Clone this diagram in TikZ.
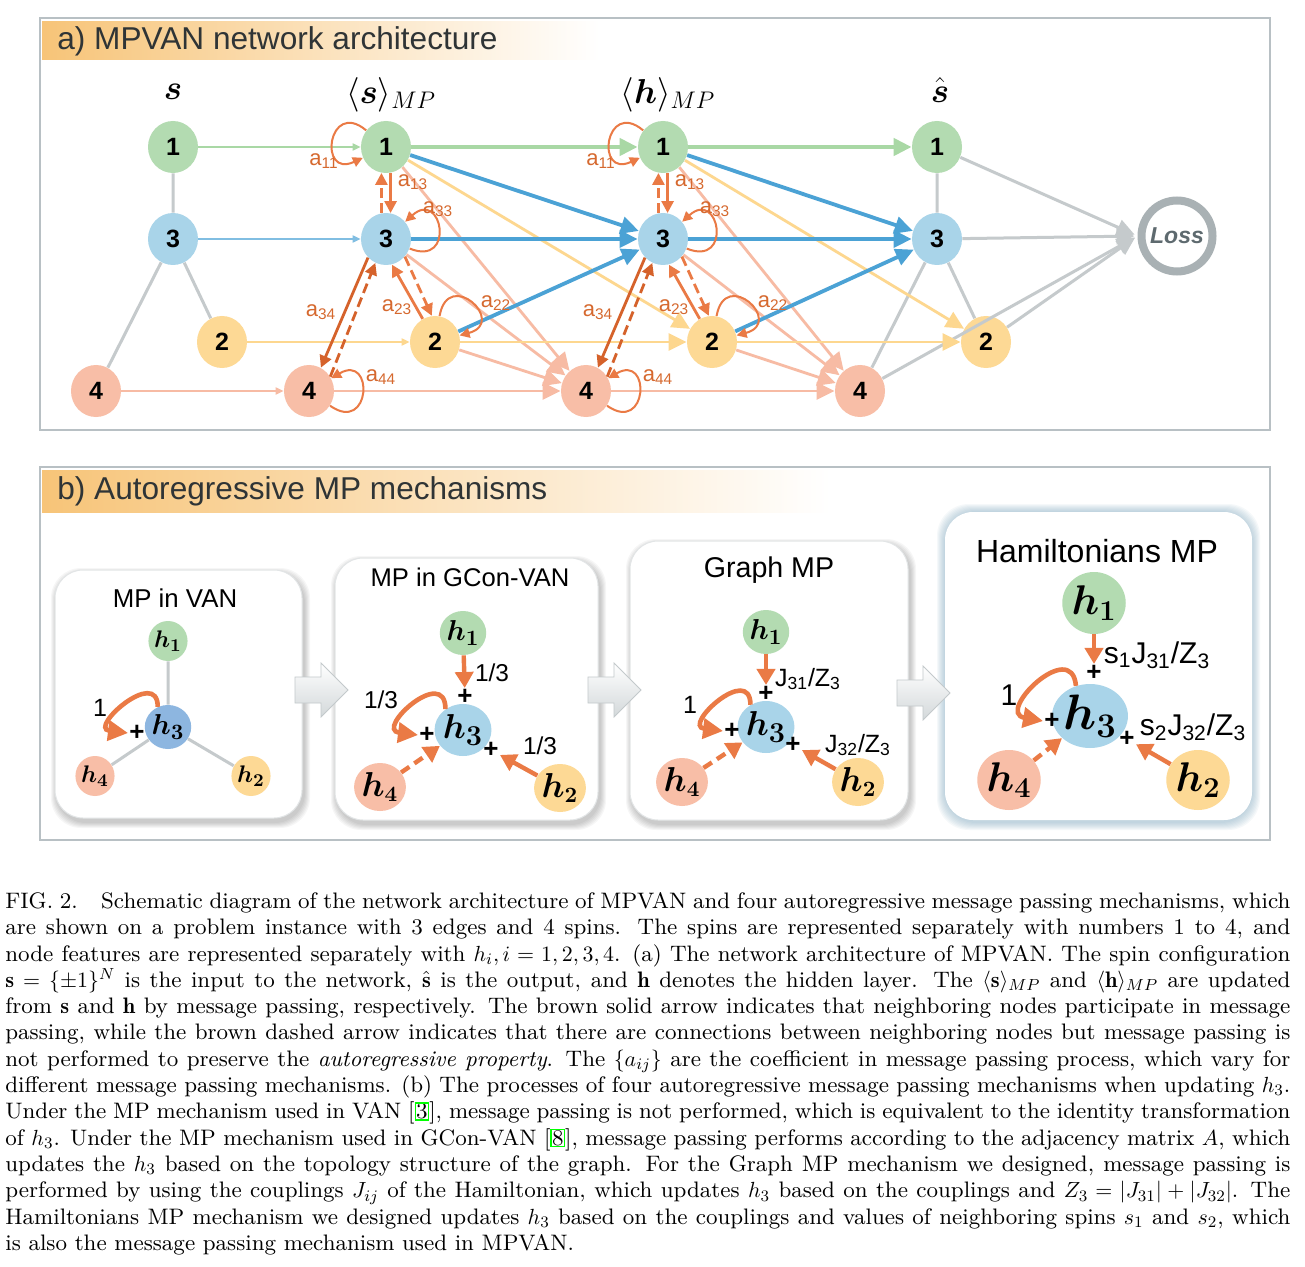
\documentclass[tikz,border=0pt]{standalone}
\usepackage{amsmath}
\usepackage{fontspec}
\setsansfont{Liberation Sans}
\newfontfamily\capfont{lmroman9-regular.otf}[ItalicFont=lmroman9-italic.otf,BoldFont=lmroman9-bold.otf]
\usetikzlibrary{arrows.meta,shapes.geometric}

\definecolor{spgreen}{HTML}{B3DBB1}
\definecolor{spblue}{HTML}{A9D4E9}
\definecolor{spyellow}{HTML}{FDD995}
\definecolor{spsalmon}{HTML}{F8BEA7}
\definecolor{vanblue}{HTML}{8DB6E0}
\definecolor{flowgreen}{HTML}{A9D8A5}
\definecolor{flowblue}{HTML}{4BA2D5}
\definecolor{flowyellow}{HTML}{FDD78F}
\definecolor{flowsalmon}{HTML}{F7BBA4}
\definecolor{mporange}{HTML}{EA7A45}
\definecolor{mpdark}{HTML}{D5622B}
\definecolor{labbrown}{HTML}{D6692F}
\definecolor{edgegray}{HTML}{C5CACC}
\definecolor{framegray}{HTML}{B8C0C4}
\definecolor{bandorange}{HTML}{F7C478}
\definecolor{titlegray}{HTML}{2F3436}
\definecolor{lossring}{HTML}{A9B1B4}
\definecolor{losstext}{HTML}{5E6A6F}
\definecolor{boxedge}{HTML}{E2E5E6}
\definecolor{glowblue}{HTML}{7FA8BF}
\definecolor{arrowgray}{HTML}{D3D8DA}
\definecolor{arrowedge}{HTML}{C3C9CB}
\definecolor{linkgreen}{HTML}{00FF00}

\newcommand{\refbox}[1]{{\setlength{\fboxsep}{0pt}\setlength{\fboxrule}{0.8pt}\fcolorbox{linkgreen}{white}{#1}}}

\tikzset{
  spin/.style={ellipse, inner sep=0pt, minimum width=25pt, minimum height=26pt,
    font=\sffamily\bfseries\fontsize{12.5}{12.5}\selectfont},
  spingreen/.style={spin, fill=spgreen},
  spinblue/.style={spin, fill=spblue},
  spinyellow/.style={spin, fill=spyellow},
  spinsalmon/.style={spin, fill=spsalmon},
  header/.style={inner sep=0pt, font=\fontsize{18}{22}\selectfont},
  paneltitle/.style={anchor=west, inner sep=0pt, text=titlegray, font=\sffamily\fontsize{15.8}{16}\selectfont},
  feed/.style={line width=0.7pt, -{Triangle[length=4pt,width=3.6pt]}},
  flow/.style={line width=1.9pt, -{Triangle[length=9pt,width=8.5pt]}},
  grayline/.style={draw=edgegray, line width=1.5pt},
  tolossarrow/.style={draw=edgegray, line width=1.5pt, shorten >=1.5pt, -{Triangle[length=9pt,width=8pt]}},
  mpsolid/.style={draw=mporange, line width=1.4pt, -{Triangle[length=6pt,width=6pt]}},
  mpdashed/.style={mpsolid, dash pattern=on 5pt off 2.5pt},
  mploop/.style={draw=mporange, line width=1pt, min distance=25pt, -{Triangle[length=5pt,width=5pt]}},
  alab/.style={inner sep=0pt, text=labbrown, font=\sffamily\fontsize{11}{11}\selectfont},
  % panel b
  hnode/.style={ellipse, inner sep=0pt},
  boxtitle/.style={inner sep=0pt, font=\sffamily\fontsize{#1}{#1}\selectfont},
  plus/.style={inner sep=0.5pt, font=\sffamily\bfseries\fontsize{13}{13}\selectfont},
  coef/.style={inner sep=0pt, font=\sffamily\fontsize{#1}{#1}\selectfont},
  bsolid/.style={draw=mporange, line width=2.2pt, -{Triangle[length=8pt,width=9pt]}},
  bdashed/.style={bsolid, dash pattern=on 5pt off 3pt},
  bloop/.style={draw=mporange, line width=2.3pt, -{Triangle[length=10pt,width=10pt]}},
}

\begin{document}
\begin{tikzpicture}[x=0.5pt, y=-0.5pt]
\useasboundingbox (0,0) rectangle (1305,1267);
\fill[white] (0,0) rectangle (1305,1267);

% frames and title bands
\shade[left color=bandorange, right color=white] (42,22) rectangle (600,60);
\shade[left color=bandorange, right color=white] (42,470) rectangle (830,512);
\draw[framegray, line width=1pt] (40,18) rectangle (1270,430);
\draw[framegray, line width=1pt] (40,467) rectangle (1270,840);
\node[paneltitle] (titlea) at (57,41) {a) MPVAN network architecture};
\node[paneltitle] (titleb) at (57,491) {b) Autoregressive MP mechanisms};

% ---------------- a) network ----------------
\node[header] (hds) at (173,92) {$\boldsymbol{s}$};
\node[header] (hdsmp) at (391,95) {$\langle\boldsymbol{s}\rangle_{MP}$};
\node[header] (hdhmp) at (668,95) {$\langle\boldsymbol{h}\rangle_{MP}$};
\node[header] (hdshat) at (940,90) {$\hat{\boldsymbol{s}}$};

\foreach \c/\x in {s/173, m/386, h/663, o/937} {
  \node[spingreen] (\c1) at (\x,147) {1};
  \node[spinblue] (\c3) at (\x,239) {3};
  \node[spinyellow] (\c2) at (\x+49,342) {2};
  \node[spinsalmon] (\c4) at (\x-77,391) {4};
}
\node[circle, draw=lossring, line width=4pt, minimum size=35.5pt, inner sep=0pt,
  text=losstext, font=\sffamily\bfseries\itshape\fontsize{11.5}{11.5}\selectfont] (loss) at (1177,236) {Loss};

% graph edges of input and output
\draw[grayline] (s1) -- (s3) (s3) -- (s2) (s3) -- (s4);
\draw[grayline] (o1) -- (o3) (o3) -- (o2) (o3) -- (o4);
\foreach \i in {1,3,2,4}
  \draw[tolossarrow] (o\i) -- (loss.west);

% s -> <s>_MP
\draw[feed, flowgreen] (s1) -- (m1);
\draw[feed, flowblue!70] (s3) -- (m3);
\draw[feed, flowyellow] (s2) -- (m2);
\draw[feed, flowsalmon] (s4) -- (m4);

% autoregressive feeds
\foreach \a/\b in {m/h, h/o} {
  \draw[flow, flowsalmon, line width=1.4pt] (\a1) -- (\b4);
  \draw[flow, flowsalmon, line width=1.4pt] (\a3) -- (\b4);
  \draw[flow, flowsalmon, line width=1.4pt] (\a2) -- (\b4);
  \draw[flow, flowsalmon, line width=1.4pt] (\a4) -- (\b4);
  \draw[flow, flowyellow, line width=1.4pt] (\a1) -- (\b2);
  \draw[flow, flowyellow, line width=1.4pt] (\a2) -- (\b2);
  \draw[flow, flowblue] (\a1) -- (\b3);
  \draw[flow, flowblue] (\a3) -- (\b3);
  \draw[flow, flowblue] (\a2) -- (\b3);
  \draw[flow, flowgreen, line width=2.2pt] (\a1) -- (\b1);
}

% message passing inside <s>_MP and <h>_MP
\foreach \c/\x in {m/386, h/663} {
  \draw[mploop] (\c1) to[out=140,in=205] (\c1);
  \draw[mploop] (\c3) to[out=-22,in=42] (\c3);
  \draw[mploop] (\c2) to[out=80,in=15] (\c2);
  \draw[mploop] (\c4) to[out=-35,in=30] (\c4);
  \draw[mpsolid] (\c1.280) -- (\c3.80);
  \draw[mpdashed] (\c3.100) -- (\c1.260);
  \draw[mpsolid, draw=mpdark] (\c3.226) -- (\c4.63);
  \draw[mpdashed, draw=mpdark] (\c4.34) -- (\c3.246);
  \draw[mpsolid] (\c2.118) -- (\c3.283);
  \draw[mpdashed] (\c3.317) -- (\c2.97);
  \node[alab] (\c-a11) at (\x-62,161) {a\textsubscript{11}};
  \node[alab] (\c-a13) at (\x+27,182) {a\textsubscript{13}};
  \node[alab] (\c-a33) at (\x+52,209) {a\textsubscript{33}};
  \node[alab] (\c-a34) at (\x-65,312) {a\textsubscript{34}};
  \node[alab] (\c-a23) at (\x+11,307) {a\textsubscript{23}};
  \node[alab] (\c-a22) at (\x+110,303) {a\textsubscript{22}};
  \node[alab] (\c-a44) at (\x-5,377) {a\textsubscript{44}};
}

% ---------------- b) mechanisms ----------------
\foreach \k in {1,...,8}
  \fill[glowblue, opacity=0.07, rounded corners=16pt] (945-\k,512-\k) rectangle (1252+\k,820+\k+2);
\fill[white, rounded corners=14pt] (945,512) rectangle (1252,820);
\foreach \xa/\ya/\xb/\yb in {55/570/302/818, 335/558/598/820, 630/541/908/820} {
  \foreach \k in {1,...,6}
    \fill[black, opacity=0.035, rounded corners=15pt] (\xa-\k+2,\ya-\k+4) rectangle (\xb+\k+2,\yb+\k+4);
  \fill[white, draw=boxedge, line width=0.5pt, rounded corners=14pt] (\xa,\ya) rectangle (\xb,\yb);
}
\foreach \xa/\yc in {295/690, 588/690, 897/693}
  \shadedraw[top color=white, bottom color=arrowgray, draw=arrowedge, line width=0.4pt]
    (\xa,\yc-13) -- (\xa+26,\yc-13) -- (\xa+26,\yc-27) -- (\xa+53,\yc)
    -- (\xa+26,\yc+27) -- (\xa+26,\yc+13) -- (\xa,\yc+13) -- cycle;

% MP in VAN
\node[boxtitle=12.9] (van) at (175,598) {MP in VAN};
\node[hnode, fill=spgreen, minimum width=18pt, minimum height=20pt, font=\fontsize{13}{13}\selectfont] (van-h1) at (168,641) {$\boldsymbol{h_1}$};
\node[hnode, fill=vanblue, minimum width=20pt, minimum height=22pt, font=\fontsize{15}{15}\selectfont] (van-h3) at (168,727) {$\boldsymbol{h_3}$};
\node[hnode, fill=spsalmon, minimum width=18pt, minimum height=20pt, font=\fontsize{13}{13}\selectfont] (van-h4) at (95,776) {$\boldsymbol{h_4}$};
\node[hnode, fill=spyellow, minimum width=18pt, minimum height=20pt, font=\fontsize{13}{13}\selectfont] (van-h2) at (251,776) {$\boldsymbol{h_2}$};
\draw[grayline] (van-h3) -- (van-h1) (van-h3) -- (van-h4) (van-h3) -- (van-h2);
\node[plus] (van-pl) at (137,733) {+};
\node[coef=12.5] (van-c) at (100,708) {1};
\draw[bloop] (van-h3.117) to[out=90,in=173,looseness=2.6] (van-pl.west);

% MP in GCon-VAN
\node[boxtitle=12.8] (gcn) at (470,577) {MP in GCon-VAN};
\node[hnode, fill=spgreen, minimum width=20pt, minimum height=22pt, font=\fontsize{15}{15}\selectfont] (gcn-h1) at (463,633) {$\boldsymbol{h_1}$};
\node[hnode, fill=spblue, minimum width=24pt, minimum height=26pt, font=\fontsize{19}{19}\selectfont] (gcn-h3) at (463,730) {$\boldsymbol{h_3}$};
\node[hnode, fill=spsalmon, minimum width=22pt, minimum height=24pt, font=\fontsize{16}{16}\selectfont] (gcn-h4) at (380,787) {$\boldsymbol{h_4}$};
\node[hnode, fill=spyellow, minimum width=22pt, minimum height=24pt, font=\fontsize{16}{16}\selectfont] (gcn-h2) at (560,788) {$\boldsymbol{h_2}$};
\node[plus] (gcn-pt) at (465,697) {+};
\node[plus] (gcn-pl) at (427,735) {+};
\node[plus] (gcn-pr) at (491,750) {+};
\node[coef=12.2] (gcn-ct) at (492,673) {1/3};
\node[coef=12.2] (gcn-cl) at (381,700) {1/3};
\node[coef=12.2] (gcn-cr) at (540,746) {1/3};
\draw[bsolid] (gcn-h1) -- (gcn-pt);
\draw[bloop] (gcn-h3.130) to[out=90,in=173,looseness=3] (gcn-pl.west);
\draw[bdashed] (gcn-h4) -- (gcn-h3);
\draw[bsolid] (gcn-h2) -- (gcn-pr);

% Graph MP
\node[boxtitle=14.3] (gmp) at (769,570) {Graph MP};
\node[hnode, fill=spgreen, minimum width=20pt, minimum height=22pt, font=\fontsize{15}{15}\selectfont] (gmp-h1) at (766,632) {$\boldsymbol{h_1}$};
\node[hnode, fill=spblue, minimum width=24pt, minimum height=26pt, font=\fontsize{19}{19}\selectfont] (gmp-h3) at (766,727) {$\boldsymbol{h_3}$};
\node[hnode, fill=spsalmon, minimum width=22pt, minimum height=24pt, font=\fontsize{16}{16}\selectfont] (gmp-h4) at (682,782) {$\boldsymbol{h_4}$};
\node[hnode, fill=spyellow, minimum width=22pt, minimum height=24pt, font=\fontsize{16}{16}\selectfont] (gmp-h2) at (858,782) {$\boldsymbol{h_2}$};
\node[plus] (gmp-pt) at (766,694) {+};
\node[plus] (gmp-pl) at (732,731) {+};
\node[plus] (gmp-pr) at (793,745) {+};
\node[coef=12.5] (gmp-ct) at (808,679) {J\textsubscript{31}/Z\textsubscript{3}};
\node[coef=12.5] (gmp-cl) at (690,705) {1};
\node[coef=12.5] (gmp-cr) at (858,745) {J\textsubscript{32}/Z\textsubscript{3}};
\draw[bsolid] (gmp-h1) -- (gmp-pt);
\draw[bloop] (gmp-h3.125) to[out=90,in=173,looseness=2.8] (gmp-pl.west);
\draw[bdashed] (gmp-h4) -- (gmp-h3);
\draw[bsolid] (gmp-h2) -- (gmp-pr);

% Hamiltonians MP
\node[boxtitle=16] (ham) at (1097,551) {Hamiltonians MP};
\node[hnode, fill=spgreen, minimum width=29pt, minimum height=31pt, font=\fontsize{21}{21}\selectfont] (ham-h1) at (1094,603) {$\boldsymbol{h_1}$};
\node[hnode, fill=spblue, minimum width=29pt, minimum height=32pt, font=\fontsize{25}{25}\selectfont] (ham-h3) at (1090,716) {$\boldsymbol{h_3}$};
\node[hnode, fill=spsalmon, minimum width=28pt, minimum height=30pt, font=\fontsize{21}{21}\selectfont] (ham-h4) at (1009,780) {$\boldsymbol{h_4}$};
\node[hnode, fill=spyellow, minimum width=28pt, minimum height=30pt, font=\fontsize{21}{21}\selectfont] (ham-h2) at (1198,780) {$\boldsymbol{h_2}$};
\node[plus] (ham-pt) at (1094,673) {+};
\node[plus] (ham-pl) at (1052,721) {+};
\node[plus] (ham-pr) at (1127,739) {+};
\node[coef=15] (ham-ct) at (1157,655) {s\textsubscript{1}J\textsubscript{31}/Z\textsubscript{3}};
\node[coef=15] (ham-cl) at (1009,695) {1};
\node[coef=15] (ham-cr) at (1193,727) {s\textsubscript{2}J\textsubscript{32}/Z\textsubscript{3}};
\draw[bsolid] (ham-h1) -- (ham-pt);
\draw[bloop] (ham-h3.115) to[out=95,in=170,looseness=2.6] (ham-pl.west);
\draw[bdashed] (ham-h4) -- (ham-h3);
\draw[bsolid] (ham-h2) -- (ham-pr);

% ---------------- caption ----------------
\node[anchor=north west, inner sep=0pt, text width=642.5pt, align=justify,
  font=\capfont\fontsize{11.2}{13.15}\selectfont] (caption) at (5,892) {%
FIG.~2.\hspace{0.6em} Schematic diagram of the network architecture of MPVAN and four autoregressive message passing mechanisms, which\linebreak
are shown on a problem instance with 3 edges and 4 spins.  The spins are represented separately with numbers 1 to 4, and\linebreak
node features are represented separately with $h_i, i=1,2,3,4$. (a) The network architecture of MPVAN. The spin configuration\linebreak
$\mathbf{s}=\{\pm1\}^N$ is the input to the network, $\hat{\mathbf{s}}$ is the output, and $\mathbf{h}$ denotes the hidden layer.  The $\langle\mathbf{s}\rangle_{MP}$ and $\langle\mathbf{h}\rangle_{MP}$ are updated\linebreak
from $\mathbf{s}$ and $\mathbf{h}$ by message passing, respectively. The brown solid arrow indicates that neighboring nodes participate in message\linebreak
passing, while the brown dashed arrow indicates that there are connections between neighboring nodes but message passing is\linebreak
not performed to preserve the \emph{autoregressive property}. The $\{a_{ij}\}$ are the coefficient in message passing process, which vary for\linebreak
different message passing mechanisms. (b) The processes of four autoregressive message passing mechanisms when updating $h_3$.\linebreak
Under the MP mechanism used in VAN [\refbox{3}], message passing is not performed, which is equivalent to the identity transformation\linebreak
of $h_3$. Under the MP mechanism used in GCon-VAN [\refbox{8}], message passing performs according to the adjacency matrix $A$, which\linebreak
updates the $h_3$ based on the topology structure of the graph. For the Graph MP mechanism we designed, message passing is\linebreak
performed by using the couplings $J_{ij}$ of the Hamiltonian, which updates $h_3$ based on the couplings and $Z_3=|J_{31}|+|J_{32}|$. The\linebreak
Hamiltonians MP mechanism we designed updates $h_3$ based on the couplings and values of neighboring spins $s_1$ and $s_2$, which\linebreak
is also the message passing mechanism used in MPVAN.};
\end{tikzpicture}
\end{document}
